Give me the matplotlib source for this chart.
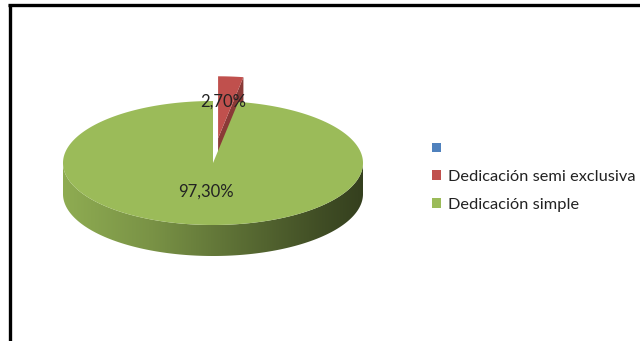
import numpy as np
import matplotlib.pyplot as plt
from matplotlib.patches import Polygon, Patch
from matplotlib.colors import to_rgb, LinearSegmentedColormap

categories = ["", "Dedicación semi exclusiva", "Dedicación simple"]
values = [0.0, 2.70, 97.30]
labels = ["", "2,70%", "97,30%"]
colors = ["#4F81BD", "#C0504D", "#9BBB59"]
explode = [0.0, 0.40, 0.0]

# pie geometry in pixel space
cx, cy = 213, 163
rx, ry = 150, 62
depth = 31

fig = plt.figure(figsize=(6.4, 3.41), dpi=100)
ax = fig.add_axes([0, 0, 1, 1])
ax.set_xlim(0, 640)
ax.set_ylim(341, 0)
ax.axis("off")


def shade(col, f):
    r, g, b = to_rgb(col)
    return (r * f, g * f, b * f)


def pt(a, ox, oy, dz=0):
    return (ox + rx * np.cos(a), oy - ry * np.sin(a) + dz)


def side_cmap(col):
    stops = [0.92, 0.78, 0.58, 0.42, 0.34]
    return LinearSegmentedColormap.from_list(
        "side", [(p, shade(col, f)) for p, f in zip([0, 0.3, 0.6, 0.85, 1.0], stops)])


total = sum(values)
start = np.pi / 2
slices = []
for v, c, e in zip(values, colors, explode):
    sweep = 2 * np.pi * v / total
    a1, a2 = start - sweep, start
    mid = (a1 + a2) / 2
    ox = cx + e * rx * np.cos(mid)
    oy = cy - e * ry * np.sin(mid)
    slices.append((a1, a2, ox, oy, c, v))
    start = a1

grad = np.linspace(0, 1, 256).reshape(1, -1)

# draw back (exploded) slices first
order = sorted(range(len(slices)), key=lambda i: -explode[i])
for i in order:
    a1, a2, ox, oy, c, v = slices[i]
    if v <= 0:
        continue
    n = max(int((a2 - a1) / 0.005), 4)
    angs = np.linspace(a1, a2, n)
    front = angs[np.sin(angs) < 0]
    if len(front) > 1:
        upper = [pt(a, ox, oy) for a in front]
        lower = [pt(a, ox, oy, depth) for a in front[::-1]]
        wall = Polygon(upper + lower, closed=True, fc="none", ec="none")
        ax.add_patch(wall)
        im = ax.imshow(grad, cmap=side_cmap(c), aspect="auto",
                       extent=(ox - rx, ox + rx, oy + ry + depth, oy - 2), zorder=1)
        im.set_clip_path(wall)
    # radial cut face at the clockwise end
    if explode[i] > 0:
        e0 = pt(a1, ox, oy)
        p = [(ox, oy), e0, (e0[0], e0[1] + depth), (ox, oy + depth)]
        ax.add_patch(Polygon(p, closed=True, fc=shade(c, 0.72), ec="none", zorder=1))
    top = [(ox, oy)] + [pt(a, ox, oy) for a in angs]
    ax.add_patch(Polygon(top, closed=True, fc=c, ec="none", zorder=1))

ax.set_xlim(0, 640)
ax.set_ylim(341, 0)

# percentage labels
ax.text(223, 102, labels[1], ha="center", va="center", fontsize=12,
        color="#222222", family="Lato", zorder=3)
ax.text(206, 192, labels[2], ha="center", va="center", fontsize=12,
        color="#222222", family="Lato", zorder=3)

# chart frame (top and left edges visible)
ax.plot([8, 640], [4.5, 4.5], color="black", lw=2.4, solid_capstyle="butt")
ax.plot([9.5, 9.5], [3.5, 341], color="black", lw=2.4, solid_capstyle="butt")

handles = [Patch(fc=c, ec="none") for c in colors]
leg = ax.legend(handles, categories, loc="upper left", bbox_to_anchor=(0.652, 0.626),
                frameon=False, handlelength=0.55, handleheight=0.55, handletextpad=0.4,
                labelspacing=0.85, prop={"family": "Lato", "size": 11.8})
for t in leg.get_texts():
    t.set_color("#222222")

fig.savefig("out.png", dpi=100)
